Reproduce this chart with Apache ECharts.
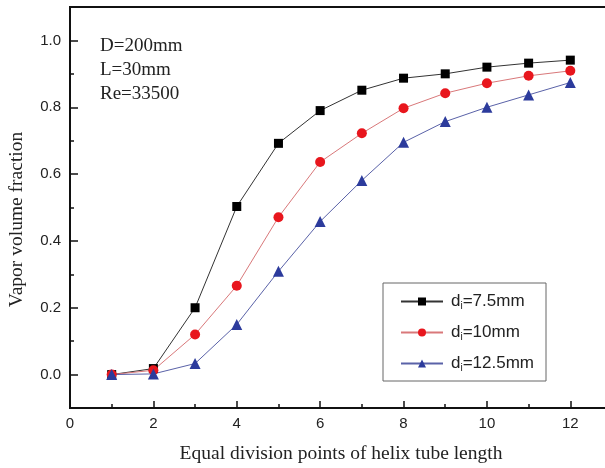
<!DOCTYPE html>
<html>
<head>
<meta charset="utf-8">
<script src="https://cdn.jsdelivr.net/npm/echarts@6/dist/echarts.min.js"></script>
<style>
  html, body { margin: 0; padding: 0; background: #fff; }
  #main { width: 605px; height: 468px; }
</style>
</head>
<body>
<div id="main"></div>
<script>
// data
var points = [1, 2, 3, 4, 5, 6, 7, 8, 9, 10, 11, 12];
var d75 = [0, 0.018, 0.20, 0.503, 0.692, 0.79, 0.851, 0.887, 0.90, 0.92, 0.932, 0.941];
var d10 = [0, 0.013, 0.12, 0.266, 0.471, 0.636, 0.722, 0.797, 0.842, 0.872, 0.894, 0.909];
var d125 = [0, 0.002, 0.033, 0.15, 0.309, 0.458, 0.581, 0.695, 0.757, 0.80, 0.837, 0.874];
var seriesNames = ['di=7.5mm', 'di=10mm', 'di=12.5mm'];

var xMajor = [0, 2, 4, 6, 8, 10, 12];
var xMinor = [1, 3, 5, 7, 9, 11];
var yMajor = [0, 0.2, 0.4, 0.6, 0.8, 1.0];
var yMinor = [0.1, 0.3, 0.5, 0.7, 0.9];
var notes = ['D=200mm', 'L=30mm', 'Re=33500'];

function pairs(ys) {
    return points.map(function (x, i) { return [x, ys[i]]; });
}

var serif = '"Liberation Serif", "Times New Roman", serif';
var sans = '"Liberation Sans", Arial, sans-serif';

var main = document.getElementById('main');
var myChart = echarts.init(main, null, { renderer: 'canvas' });

var option = {
    animation: false,
    backgroundColor: '#fff',
    grid: {
        left: 70, top: 7, width: 542, height: 401,
        show: true, borderColor: '#111', borderWidth: 2,
        containLabel: false,
        outerBoundsMode: 'none'
    },
    legend: {
        orient: 'vertical',
        left: 383, top: 283,
        width: 170,
        data: seriesNames,
        backgroundColor: '#fff',
        borderColor: '#666', borderWidth: 1,
        padding: [9, 12, 8, 17],
        itemWidth: 42, itemHeight: 10,
        itemGap: 12,
        textStyle: {
            fontFamily: sans, fontSize: 17, color: '#222', lineHeight: 19, padding: [0, 0, 0, 3],
            rich: {
                d: { fontFamily: sans, fontSize: 17, color: '#222' },
                s: { fontFamily: sans, fontSize: 10, color: '#222', verticalAlign: 'bottom', padding: [8, 0, 0, 0] }
            }
        },
        formatter: function (name) {
            return '{d|d}{s|i}{d|' + name.slice(2) + '}';
        }
    },
    xAxis: [
        {
            type: 'value', min: 0, max: 13, position: 'bottom',
            name: 'Equal division points of helix tube length',
            nameLocation: 'middle', nameGap: 36,
            nameTextStyle: { fontFamily: serif, fontSize: 19.5, color: '#222' },
            axisLine: { onZero: false, lineStyle: { color: '#111', width: 2 } },
            axisTick: { inside: true, length: 7, customValues: xMajor, lineStyle: { color: '#111', width: 1.5 } },
            axisLabel: { customValues: xMajor, margin: 8, fontFamily: sans, fontSize: 15, color: '#222' },
            splitLine: { show: false }
        },
        {
            type: 'value', min: 0, max: 13, position: 'bottom',
            axisLine: { show: false, onZero: false },
            axisTick: { inside: true, length: 4, customValues: xMinor, lineStyle: { color: '#111', width: 1.5 } },
            axisLabel: { show: false },
            splitLine: { show: false }
        }
    ],
    yAxis: [
        {
            type: 'value', min: -0.1, max: 1.1, position: 'left',
            name: 'Vapor volume fraction',
            nameLocation: 'middle', nameGap: 43, nameRotate: 90,
            nameTextStyle: { fontFamily: serif, fontSize: 19.5, color: '#222', padding: [0, 24, 0, 0] },
            axisLine: { onZero: false, lineStyle: { color: '#111', width: 2 } },
            axisTick: { inside: true, length: 8, customValues: yMajor, lineStyle: { color: '#111', width: 1.5 } },
            axisLabel: {
                customValues: yMajor, margin: 9, fontFamily: sans, fontSize: 15, color: '#222',
                formatter: function (v) { return v.toFixed(1); }
            },
            splitLine: { show: false }
        },
        {
            type: 'value', min: -0.1, max: 1.1, position: 'left',
            axisLine: { show: false, onZero: false },
            axisTick: { inside: true, length: 4, customValues: yMinor, lineStyle: { color: '#111', width: 1.5 } },
            axisLabel: { show: false },
            splitLine: { show: false }
        }
    ],
    graphic: [
        {
            type: 'text', left: 100, top: 34,
            style: {
                text: notes.join('\n'),
                font: '19px ' + serif,
                lineHeight: 24,
                fill: '#222'
            }
        }
    ],
    series: [
        {
            name: seriesNames[0], type: 'line', data: pairs(d75),
            symbol: 'rect', symbolSize: 9,
            itemStyle: { color: '#000' },
            lineStyle: { color: '#333', width: 1 }
        },
        {
            name: seriesNames[1], type: 'line', data: pairs(d10),
            symbol: 'circle', symbolSize: 10,
            itemStyle: { color: '#e8161d' },
            lineStyle: { color: '#d9787a', width: 1 }
        },
        {
            name: seriesNames[2], type: 'line', data: pairs(d125),
            symbol: 'triangle', symbolSize: 11,
            itemStyle: { color: '#2c3b9c' },
            lineStyle: { color: '#5a62a8', width: 1 }
        }
    ]
};

myChart.setOption(option);
window.onresize = function () {
    myChart.resize();
};
</script>
</body>
</html>
